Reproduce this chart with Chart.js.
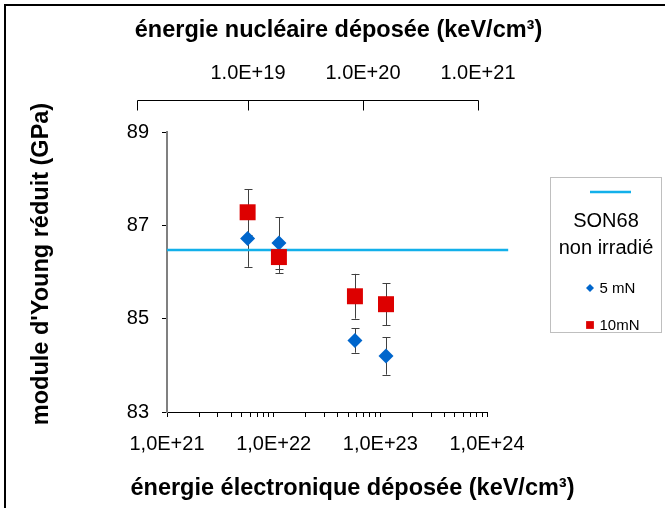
<!DOCTYPE html>
<html><head><meta charset="utf-8">
<script src="https://cdn.jsdelivr.net/npm/chart.js@4"></script>
<style>html,body{margin:0;padding:0;background:#fff;overflow:hidden}</style>
</head><body>
<canvas id="c" width="665" height="508" style="display:block;width:665px;height:508px"></canvas>
<script>
// ---- data ----
const xElec = [5.7e21, 1.12e22, 5.78e22, 1.13e23];
const young5mN = [86.72, 86.62, 84.53, 84.20];
const err5mN = [0.61, 0.55, 0.26, 0.40];
const young10mN = [87.28, 86.32, 85.48, 85.31];
const err10mN = [0.49, 0.34, 0.48, 0.45];
const sonX = [1e21, 1.58e24];
const sonY = [86.47, 86.47];
const seriesLabels = ['SON68 non irradié', '5 mN', '10mN'];
const yTicks = [83, 85, 87, 89];
const xMajorTicks = [1e21, 1e22, 1e23, 1e24];
const xTickLabels = ['1,0E+21', '1,0E+22', '1,0E+23', '1,0E+24'];
const topTicks = [1e19, 1e20, 1e21];
const topTickLabels = ['1.0E+19', '1.0E+20', '1.0E+21'];
const topAxisStart = 1.08e18;
const topAxisMin = 1.976e18;
const topAxisMax = 1.198e21;
const titleTop = 'énergie nucléaire déposée (keV/cm³)';
const titleBottom = 'énergie électronique déposée (keV/cm³)';
const titleY = "module d'Young réduit (GPa)";

// ---- styles ----
const FONT = "'Liberation Sans', Arial, sans-serif";
const TITLE_FONT = 'bold 23.5px ' + FONT;

const errorBars = {
  id: 'errorBars',
  beforeDatasetsDraw(chart) {
    const ctx = chart.ctx, ys = chart.scales.y;
    chart.data.datasets.forEach((ds, i) => {
      if (!ds.errors) return;
      const meta = chart.getDatasetMeta(i);
      ctx.save();
      ctx.strokeStyle = '#404040';
      ctx.lineWidth = 1;
      meta.data.forEach((pt, j) => {
        const v = ds.data[j].y, e = ds.errors[j];
        const x = Math.round(pt.x) + 0.5;
        const y1 = ys.getPixelForValue(v + e), y2 = ys.getPixelForValue(v - e);
        ctx.beginPath();
        ctx.moveTo(x, y1); ctx.lineTo(x, y2);
        ctx.moveTo(x - 4, Math.round(y1) + 0.5); ctx.lineTo(x + 4, Math.round(y1) + 0.5);
        ctx.moveTo(x - 4, Math.round(y2) + 0.5); ctx.lineTo(x + 4, Math.round(y2) + 0.5);
        ctx.stroke();
      });
      ctx.restore();
    });
  }
};

const decor = {
  id: 'decor',
  afterDraw(chart) {
    const ctx = chart.ctx;
    const x2 = chart.scales.x2;
    ctx.save();
    // outer frame
    ctx.strokeStyle = '#000'; ctx.lineWidth = 2;
    ctx.beginPath(); ctx.moveTo(5, 508); ctx.lineTo(5, 5); ctx.lineTo(665, 5); ctx.stroke();
    // top axis line and ticks
    ctx.lineWidth = 1;
    const ty = 100.5;
    const xs = x2.getPixelForValue(topAxisStart), xe = x2.getPixelForValue(topTicks[topTicks.length - 1]);
    ctx.beginPath();
    ctx.moveTo(Math.round(xs) + 0.5, ty); ctx.lineTo(Math.round(xe) + 0.5, ty);
    [topAxisStart].concat(topTicks).forEach(v => {
      const px = Math.round(x2.getPixelForValue(v)) + 0.5;
      ctx.moveTo(px, ty); ctx.lineTo(px, ty + 10);
    });
    ctx.stroke();
    // titles
    ctx.fillStyle = '#000';
    ctx.font = TITLE_FONT;
    ctx.textAlign = 'center'; ctx.textBaseline = 'middle';
    ctx.fillText(titleTop, 338.5, 31);
    ctx.fillText(titleBottom, 352.5, 489);
    ctx.save();
    ctx.translate(42, 264); ctx.rotate(-Math.PI / 2);
    ctx.fillText(titleY, 0, 0);
    ctx.restore();
    // legend
    ctx.strokeStyle = '#BFBFBF'; ctx.lineWidth = 1;
    ctx.strokeRect(550.5, 177.5, 111, 155);
    const dsLine = chart.data.datasets[0];
    ctx.strokeStyle = dsLine.borderColor; ctx.lineWidth = dsLine.borderWidth;
    ctx.beginPath(); ctx.moveTo(590, 192); ctx.lineTo(631, 192); ctx.stroke();
    ctx.font = '20px ' + FONT; ctx.fillStyle = '#000';
    const lbl = dsLine.label, sp = lbl.indexOf(' ');
    ctx.fillText(lbl.slice(0, sp), 606, 221);
    ctx.fillText(lbl.slice(sp + 1), 606, 248);
    const d1 = chart.data.datasets[1], d2 = chart.data.datasets[2];
    ctx.fillStyle = d1.backgroundColor;
    Chart.helpers.drawPoint(ctx, {pointStyle: d1.pointStyle, radius: 4, borderWidth: 0}, 590, 288);
    ctx.fillStyle = d2.backgroundColor;
    Chart.helpers.drawPoint(ctx, {pointStyle: d2.pointStyle, radius: 5.5, borderWidth: 0}, 590, 325);
    ctx.fillStyle = '#000';
    ctx.font = '15px ' + FONT; ctx.textAlign = 'left';
    ctx.fillText(d1.label, 599.5, 289);
    ctx.fillText(d2.label, 599.5, 326);
    ctx.restore();
  }
};

new Chart(document.getElementById('c'), {
  type: 'scatter',
  data: {
    datasets: [
      { type: 'line', label: seriesLabels[0], data: sonX.map((x, i) => ({x, y: sonY[i]})),
        borderColor: '#12B0EA', borderWidth: 2.5, pointRadius: 0, clip: false, order: 3 },
      { label: seriesLabels[1], data: xElec.map((x, i) => ({x, y: young5mN[i]})), errors: err5mN,
        pointStyle: 'rectRot', pointRadius: 7.5, backgroundColor: '#0066CC', borderColor: '#0066CC', borderWidth: 0, order: 2 },
      { label: seriesLabels[2], data: xElec.map((x, i) => ({x, y: young10mN[i]})), errors: err10mN,
        pointStyle: 'rect', pointRadius: 11.3, backgroundColor: '#DD0000', borderColor: '#DD0000', borderWidth: 0, order: 1 }
    ]
  },
  options: {
    responsive: false, animation: false, devicePixelRatio: 1,
    layout: {padding: {left: 0, right: 178, top: 0, bottom: 0}},
    plugins: {legend: {display: false}, tooltip: {enabled: false}},
    scales: {
      x: {
        type: 'logarithmic', position: 'bottom', min: xMajorTicks[0], max: xMajorTicks[xMajorTicks.length - 1],
        afterBuildTicks: s => {
          const t = [];
          for (let d = 0; d < xMajorTicks.length; d++) {
            t.push({value: xMajorTicks[d]});
            if (d < xMajorTicks.length - 1) for (let k = 2; k <= 9; k++) t.push({value: k * xMajorTicks[d]});
          }
          s.ticks = t;
        },
        ticks: {autoSkip: false, maxRotation: 0, color: '#000', padding: 15, font: {family: FONT, size: 20},
          callback: v => { const i = xMajorTicks.indexOf(v); return i >= 0 ? xTickLabels[i] : ''; }},
        grid: {drawOnChartArea: false, drawTicks: true, tickLength: 5, color: '#000', lineWidth: 1},
        border: {color: '#000', width: 1},
        afterFit: s => { s.height = 96; }
      },
      x2: {
        type: 'logarithmic', position: 'top', min: topAxisMin, max: topAxisMax,
        afterBuildTicks: s => { s.ticks = topTicks.map(v => ({value: v})); },
        ticks: {autoSkip: false, maxRotation: 0, color: '#000', padding: 47, font: {family: FONT, size: 20},
          callback: v => { const i = topTicks.indexOf(v); return i >= 0 ? topTickLabels[i] : ''; }},
        grid: {display: false, drawTicks: false}, border: {display: false},
        afterFit: s => { s.height = 132; }
      },
      y: {
        type: 'linear', min: yTicks[0], max: yTicks[yTicks.length - 1],
        afterBuildTicks: s => { s.ticks = yTicks.map(v => ({value: v})); },
        ticks: {color: '#000', padding: 13, font: {family: FONT, size: 20}},
        grid: {drawOnChartArea: false, drawTicks: true, tickLength: 5, color: '#000'},
        border: {color: '#808080', width: 2},
        afterFit: s => { s.width = 167; }
      }
    }
  },
  plugins: [errorBars, decor]
});
</script>
</body></html>
